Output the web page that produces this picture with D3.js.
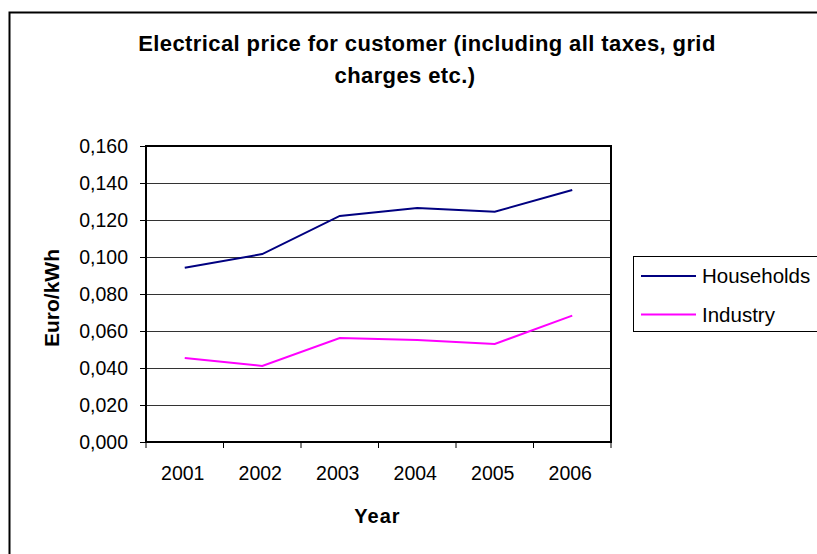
<!DOCTYPE html>
<html>
<head>
<meta charset="utf-8">
<script src="https://cdn.jsdelivr.net/npm/d3@7"></script>
<style>
  body { margin: 0; background: #fff; }
  text { font-family: "Liberation Sans", Arial, sans-serif; }
</style>
</head>
<body>
<script>
  const years = ['2001', '2002', '2003', '2004', '2005', '2006'];
  const households = [0.0942, 0.1016, 0.1222, 0.1265, 0.1245, 0.1362];
  const industry = [0.0454, 0.0411, 0.0562, 0.0551, 0.0530, 0.0683];
  const yTicks = [0, 0.02, 0.04, 0.06, 0.08, 0.10, 0.12, 0.14, 0.16];
  const seriesNames = ['Households', 'Industry'];
  const seriesColors = ['#000080', '#ff00ff'];

  const width = 817;
  const height = 554;
  const plot = { left: 146, top: 146, right: 611, bottom: 442 };

  const svg = d3.select('body')
          .append('svg')
          .attr('width', width)
          .attr('height', height);

  // outer chart frame (runs off the right and bottom edges)
  svg.append('rect')
          .attr('x', 9.5)
          .attr('y', 12.5)
          .attr('width', 900)
          .attr('height', 700)
          .attr('fill', '#fff')
          .attr('stroke', '#000')
          .attr('stroke-width', 2);

  const x = d3.scaleBand()
          .domain(years)
          .range([plot.left, plot.right]);

  const y = d3.scaleLinear()
          .domain([0, 0.16])
          .range([plot.bottom, plot.top]);

  // grid lines
  svg.append('g')
          .selectAll('line')
          .data(yTicks.slice(1))
          .enter()
          .append('line')
          .attr('x1', plot.left)
          .attr('x2', plot.right)
          .attr('y1', d => Math.round(y(d)) + 0.5)
          .attr('y2', d => Math.round(y(d)) + 0.5)
          .attr('stroke', '#333')
          .attr('stroke-width', 1);

  const fmt = d => d3.format('.3f')(d).replace('.', ',');

  const yAxis = svg.append('g')
          .attr('transform', `translate(${plot.left},0)`)
          .call(d3.axisLeft(y).tickValues(yTicks).tickFormat(fmt).tickSize(6).tickSizeOuter(0).tickPadding(12));
  yAxis.select('.domain').remove();
  yAxis.selectAll('text').attr('font-size', '19.5px').attr('font-family', '"Liberation Sans", Arial, sans-serif').attr('fill', '#000');

  // x axis ticks at band boundaries
  const xBounds = years.map(d => x(d)).concat([plot.right]);
  svg.append('g')
          .selectAll('line')
          .data(xBounds)
          .enter()
          .append('line')
          .attr('x1', d => d)
          .attr('x2', d => d)
          .attr('y1', plot.bottom)
          .attr('y2', plot.bottom + 6)
          .attr('stroke', '#000');

  svg.append('g')
          .selectAll('text')
          .data(years)
          .enter()
          .append('text')
          .attr('x', d => x(d) + x.bandwidth() / 2 - 2)
          .attr('y', 480)
          .attr('text-anchor', 'middle')
          .attr('font-size', '19.5px')
          .text(d => d);

  // plot frame
  svg.append('rect')
          .attr('x', plot.left)
          .attr('y', plot.top)
          .attr('width', plot.right - plot.left)
          .attr('height', plot.bottom - plot.top)
          .attr('fill', 'none')
          .attr('stroke', '#000')
          .attr('stroke-width', 2);

  const line = d3.line()
          .x((d, i) => x(years[i]) + x.bandwidth() / 2)
          .y(d => y(d));

  [households, industry].forEach((s, i) => {
    svg.append('path')
            .datum(s)
            .attr('d', line)
            .attr('fill', 'none')
            .attr('stroke', seriesColors[i])
            .attr('stroke-width', 2);
  });

  // titles
  const title = svg.append('text')
          .attr('text-anchor', 'middle')
          .attr('font-size', '22px')
          .attr('letter-spacing', '0.4px')
          .attr('font-weight', 'bold');
  title.append('tspan').attr('x', 427).attr('y', 51).text('Electrical price for customer (including all taxes, grid');
  title.append('tspan').attr('x', 405).attr('y', 83).text('charges etc.)');

  svg.append('text')
          .attr('transform', `translate(59,${(plot.top + plot.bottom) / 2 + 4}) rotate(-90)`)
          .attr('text-anchor', 'middle')
          .attr('font-size', '21px')
          .attr('font-weight', 'bold')
          .text('Euro/kWh');

  svg.append('text')
          .attr('x', (plot.left + plot.right) / 2 - 1)
          .attr('y', 523)
          .attr('text-anchor', 'middle')
          .attr('font-size', '20px')
          .attr('letter-spacing', '1px')
          .attr('font-weight', 'bold')
          .text('Year');

  // legend
  const legend = svg.append('g');
  legend.append('rect')
          .attr('x', 633.5)
          .attr('y', 256.5)
          .attr('width', 200)
          .attr('height', 75)
          .attr('fill', '#fff')
          .attr('stroke', '#000');
  seriesNames.forEach((name, i) => {
    const ly = 276 + i * 38.5;
    legend.append('line')
            .attr('x1', 641)
            .attr('x2', 696)
            .attr('y1', ly)
            .attr('y2', ly)
            .attr('stroke', seriesColors[i])
            .attr('stroke-width', 2);
    legend.append('text')
            .attr('x', 702)
            .attr('y', ly + 7)
            .attr('font-size', '20.5px')
            .text(name);
  });
</script>
</body>
</html>
